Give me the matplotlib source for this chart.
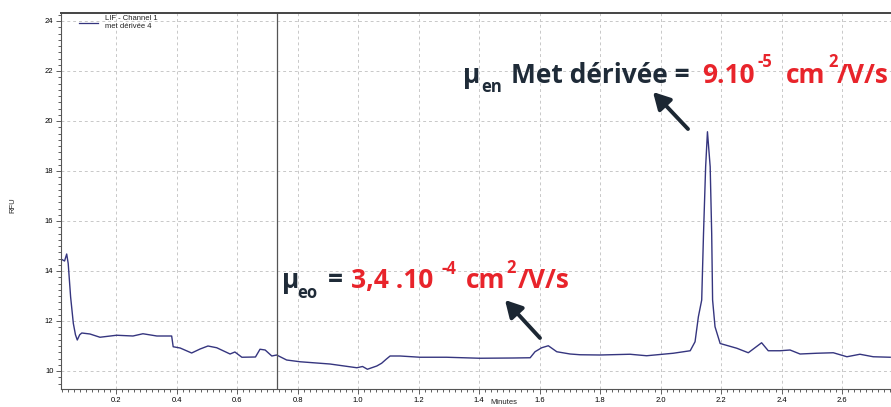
import matplotlib
matplotlib.use("Agg")
import matplotlib.pyplot as plt
from matplotlib.text import Annotation
from matplotlib.ticker import MultipleLocator, FormatStrFormatter

# ---- data ----
time_min = [0.018, 0.030, 0.037, 0.042, 0.050, 0.059, 0.066, 0.072, 0.080, 0.087, 0.114, 0.147,
            0.202, 0.256, 0.289, 0.335, 0.384, 0.389, 0.412, 0.450, 0.478, 0.504, 0.533,
            0.577, 0.593, 0.616, 0.661, 0.676, 0.693, 0.715, 0.731, 0.764, 0.808, 0.907,
            0.996, 1.015, 1.031, 1.062, 1.078, 1.093, 1.106, 1.139, 1.205, 1.293, 1.403,
            1.513, 1.569, 1.585, 1.607, 1.629, 1.657, 1.701, 1.734, 1.800, 1.899, 1.954,
            2.042, 2.098, 2.114, 2.125, 2.136, 2.142, 2.149, 2.155, 2.164, 2.169, 2.172,
            2.180, 2.197, 2.252, 2.290, 2.334, 2.356, 2.395, 2.428, 2.461, 2.516, 2.571,
            2.616, 2.659, 2.703, 2.759]
rfu = [14.48, 14.40, 14.68, 14.30, 12.96, 11.90, 11.45, 11.24, 11.45, 11.52, 11.48, 11.35,
       11.43, 11.40, 11.49, 11.40, 11.40, 10.97, 10.92, 10.72, 10.88, 11.00, 10.93,
       10.68, 10.76, 10.55, 10.56, 10.87, 10.84, 10.60, 10.64, 10.44, 10.37, 10.28,
       10.13, 10.18, 10.07, 10.20, 10.31, 10.47, 10.60, 10.60, 10.55, 10.55, 10.51,
       10.52, 10.53, 10.77, 10.93, 11.01, 10.77, 10.68, 10.65, 10.64, 10.67, 10.61,
       10.71, 10.81, 11.17, 12.17, 12.84, 15.50, 18.17, 19.57, 18.17, 15.50, 12.84,
       11.77, 11.10, 10.91, 10.73, 11.13, 10.81, 10.81, 10.84, 10.68, 10.71, 10.73,
       10.57, 10.67, 10.57, 10.55]
marker_time = 0.732
legend_lines = ["LIF - Channel 1", "met dérivée 4"]

W, H = 891, 407
fig = plt.figure(figsize=(W / 100, H / 100), dpi=100)
ax = fig.add_axes([61 / W, 1 - 389 / H, 1 - 61 / W, (389 - 13) / H])

LINE = "#35357f"
ax.plot(time_min, rfu, color=LINE, lw=1.0)
ax.axvline(marker_time, color="#555555", lw=0.9)

ax.set_xlim(0.0182, 2.7617)
ax.set_ylim(9.28, 24.32)
ax.xaxis.set_major_locator(MultipleLocator(0.2))
ax.xaxis.set_minor_locator(MultipleLocator(0.02))
ax.yaxis.set_major_locator(MultipleLocator(2))
ax.yaxis.set_minor_locator(MultipleLocator(0.25))
ax.xaxis.set_major_formatter(FormatStrFormatter("%.1f"))
ax.yaxis.set_major_formatter(FormatStrFormatter("%d"))
ax.grid(True, which="major", color="#c8c8c8", ls=(0, (3, 3)), lw=0.7)
ax.tick_params(which="both", direction="out", labelsize=5.5, length=2.5, width=0.6, pad=2,
               color="#444444")
ax.tick_params(which="major", length=3.5)
for lab in ax.get_xticklabels() + ax.get_yticklabels():
    lab.set_family("Liberation Sans")
ax.spines["right"].set_visible(False)
ax.spines["top"].set_color("#444444")
ax.spines["top"].set_linewidth(1.4)
ax.spines["left"].set_color("#555555")
ax.spines["bottom"].set_color("#555555")

fig.text(13 / W, 1 - 205 / H, "RFU", rotation=90, fontsize=5.5, family="Liberation Sans",
         ha="center", va="center", color="#222222")
fig.text(504 / W, 1 - 406.5 / H, "Minutes", fontsize=5.5, family="Liberation Sans",
         ha="center", va="bottom", color="#222222")

# legend
fig.add_artist(plt.Line2D([79 / W, 98 / W], [1 - 22.5 / H, 1 - 22.5 / H], color=LINE, lw=0.9))
fig.text(105 / W, 1 - 20.5 / H, legend_lines[0], fontsize=5.5, family="Liberation Sans",
         color="#222222", va="baseline")
fig.text(105 / W, 1 - 28 / H, legend_lines[1], fontsize=5.5, family="Liberation Sans",
         color="#222222", va="baseline")

# annotations (pieces placed at their x positions, baseline y, pixel units)
DARK = "#1f2b38"
RED = "#e8242b"
BIG = 19
SMALL = 12


def piece(x, y, text, color, size):
    fig.text(x / W, 1 - y / H, text, color=color, fontsize=size, fontweight="bold",
             family=["Open Sans", "DejaVu Sans"], va="baseline", ha="left")


piece(463, 83, "μ", DARK, BIG)
piece(481, 92, "en", DARK, SMALL)
piece(511, 83, "Met dérivée =", DARK, BIG)
piece(702, 83, "9.10", RED, BIG)
piece(758, 67, "-5", RED, SMALL)
piece(786, 83, "cm", RED, BIG)
piece(828, 67, "2", RED, SMALL)
piece(837, 83, "/V/s", RED, BIG)

piece(282, 288, "μ", DARK, BIG)
piece(297, 298, "eo", DARK, SMALL)
piece(328, 288, "=", DARK, BIG)
piece(351, 288, "3,4 .10", RED, BIG)
piece(441, 274, "-4", RED, SMALL)
piece(466, 288, "cm", RED, BIG)
piece(506, 273, "2", RED, SMALL)
piece(518, 288, "/V/s", RED, BIG)

arrowprops = dict(arrowstyle="-|>,head_length=1.0,head_width=0.55", color="#1c2733", lw=2.8,
                  shrinkA=0, shrinkB=0)
fig.add_artist(Annotation("", xy=(653, H - 92), xytext=(688, H - 129),
                          xycoords="figure pixels", textcoords="figure pixels",
                          arrowprops=arrowprops))
fig.add_artist(Annotation("", xy=(505, H - 300), xytext=(540, H - 338),
                          xycoords="figure pixels", textcoords="figure pixels",
                          arrowprops=arrowprops))

fig.savefig("out.png", dpi=100)
